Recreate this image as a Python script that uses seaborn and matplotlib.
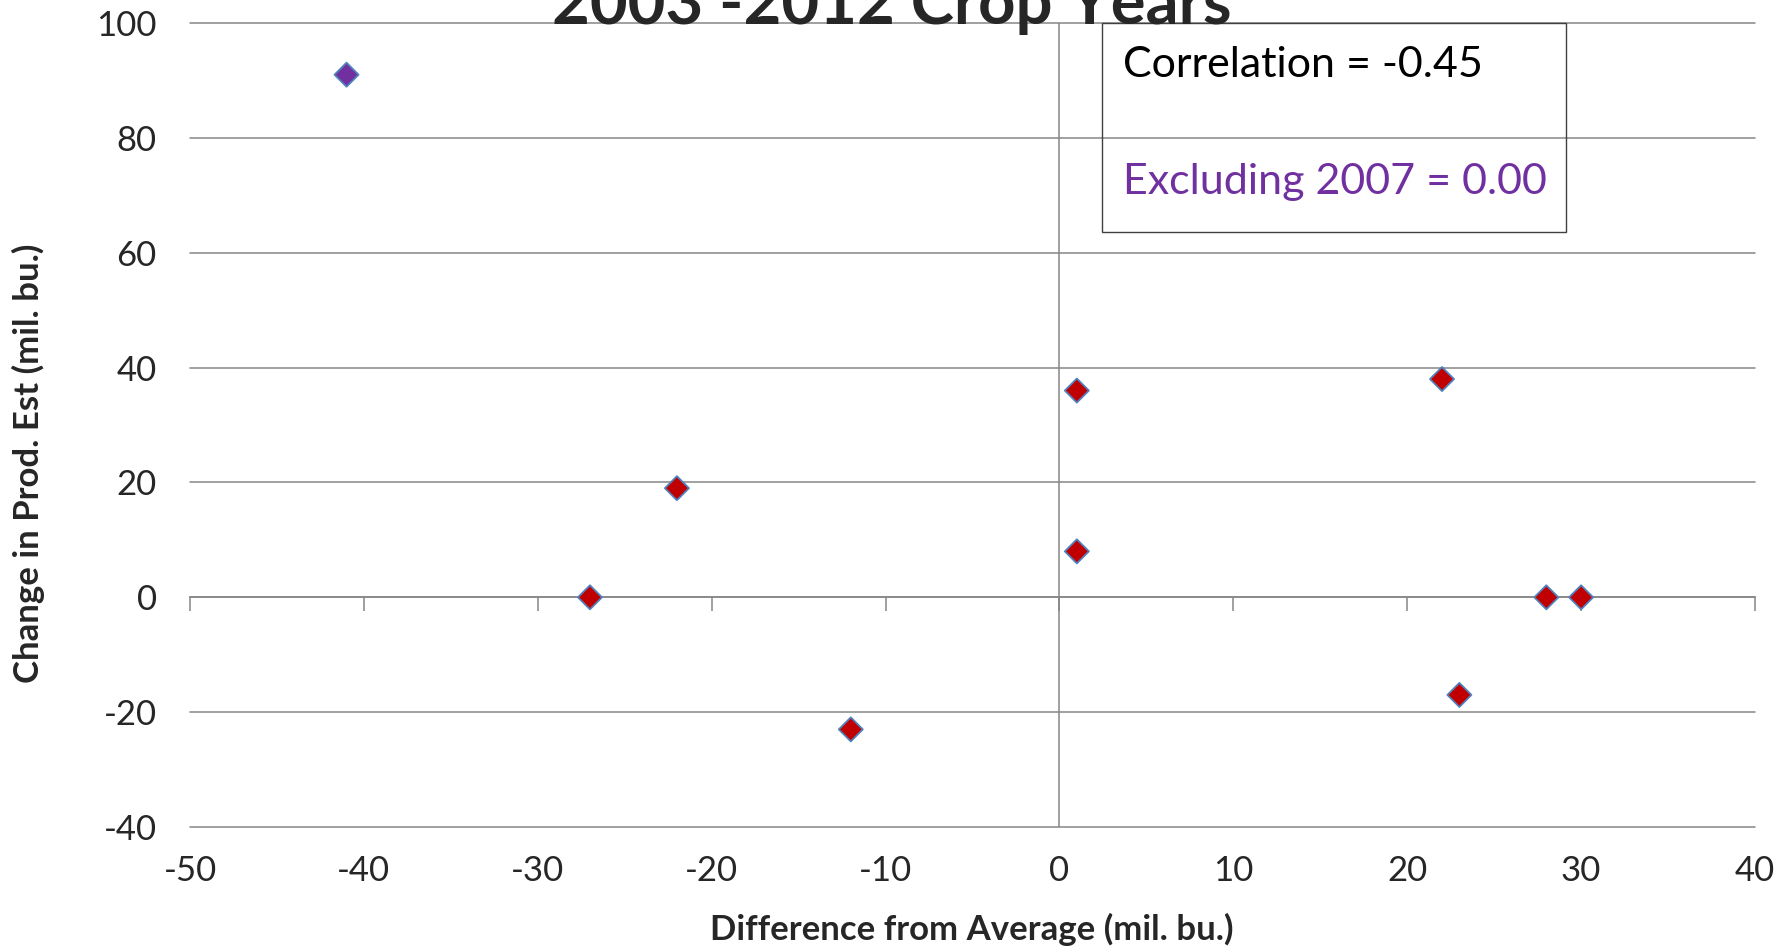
import matplotlib
matplotlib.use("Agg")
import matplotlib.pyplot as plt
import seaborn as sns
import pandas as pd
from matplotlib.patches import Rectangle

# difference from average vs change in production estimate
diff_from_avg = [-41, -27, -22, -12, 1, 1, 22, 23, 28, 30]
change_prod = [91, 0, 19, -23, 36, 8, 38, -17, 0, 0]
group = ["2007", "other", "other", "other", "other", "other", "other", "other", "other", "other"]

x_ticks = [-50, -40, -30, -20, -10, 0, 10, 20, 30, 40]
y_ticks = [-40, -20, 0, 20, 40, 60, 80, 100]

df = pd.DataFrame({"diff": diff_from_avg, "change": change_prod, "group": group})

sns.set_style("white")
plt.rcParams["font.family"] = ["Lato", "DejaVu Sans"]
plt.rcParams["axes.unicode_minus"] = False

fig = plt.figure(figsize=(17.81, 9.47), dpi=100)
ax = fig.add_axes([0.1067, 0.1267, 0.8787, 0.849])

grid_col = "#868686"
for yv in y_ticks:
    ax.axhline(yv, color=grid_col, lw=1.1, zorder=0, clip_on=False)

sns.scatterplot(data=df, x="diff", y="change", hue="group",
                palette={"2007": "#7030A0", "other": "#C00000"},
                marker="D", s=150, edgecolor="#4F81BD", linewidth=1.3,
                legend=False, ax=ax, zorder=3)

ax.set_xlim(-50, 40)
ax.set_ylim(-40, 100)
ax.set_xticks(x_ticks)
ax.set_yticks(y_ticks)
ax.tick_params(axis="both", length=0, labelsize=25)
ax.tick_params(axis="x", pad=20)
ax.tick_params(axis="y", pad=24)
for s in ax.spines.values():
    s.set_visible(False)
ax.set_xlabel("")
ax.set_ylabel("")

# axis lines crossing at zero
sec_x = ax.secondary_xaxis(40 / 140)
sec_x.set_xticks(x_ticks)
sec_x.tick_params(axis="x", direction="out", length=10, width=1.1, color=grid_col, labelbottom=False)
sec_x.spines["bottom"].set_color(grid_col)
sec_x.spines["bottom"].set_linewidth(1.1)
ax.axvline(0, color=grid_col, lw=1.1, zorder=1)

fig.text(0.5455, 0.019, "Difference from Average (mil. bu.)", ha="center", va="center",
         fontsize=25, fontweight="bold")
fig.text(0.0157, 0.511, "Change in Prod. Est (mil. bu.)", ha="center", va="center",
         rotation=90, fontsize=25, fontweight="bold")

fig.text(0.5008, 0.975, "2003 -2012 Crop Years", ha="center", va="baseline",
         fontsize=47, fontweight="bold")

fig.patches.append(Rectangle((0.6188, 0.755), 0.2605, 0.2207, transform=fig.transFigure,
                             fill=False, edgecolor="#404040", lw=1.0, figure=fig))
fig.text(0.6305, 0.931, "Correlation = -0.45", ha="left", va="center", fontsize=31, color="black")
fig.text(0.6305, 0.808, "Excluding 2007 = 0.00", ha="left", va="center", fontsize=31, color="#7030A0")

fig.savefig("out.png", dpi=100)
